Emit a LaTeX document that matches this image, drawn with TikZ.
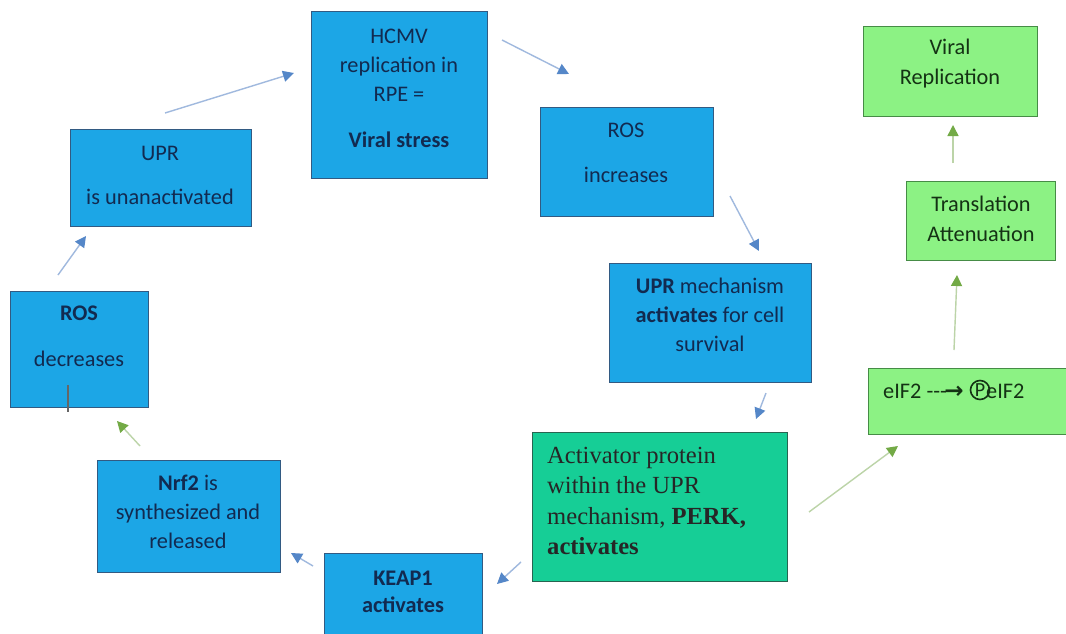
\documentclass[tikz,border=0pt]{standalone}
\usepackage{fontspec}
\setmainfont{Carlito}
\newfontfamily\timesf{Liberation Serif}
\newfontfamily\symf{DejaVu Sans}
\usetikzlibrary{arrows.meta}
\definecolor{bluefill}{RGB}{28,166,230}
\definecolor{blueedge}{RGB}{50,90,130}
\definecolor{greenfill}{RGB}{140,242,132}
\definecolor{greenedge}{RGB}{70,140,70}
\definecolor{perkfill}{RGB}{22,206,150}
\definecolor{perkedge}{RGB}{40,100,80}
\definecolor{navytext}{RGB}{18,42,80}
\definecolor{greentext}{RGB}{20,50,20}
\definecolor{bline}{RGB}{160,185,222}
\definecolor{btip}{RGB}{85,135,200}
\definecolor{gline}{RGB}{188,212,168}
\definecolor{gtip}{RGB}{115,170,70}
\tikzset{
  bluebox/.style={draw=blueedge, fill=bluefill, line width=1pt, inner sep=0pt},
  greenbox/.style={draw=greenedge, fill=greenfill, line width=1pt, inner sep=0pt},
  perkbox/.style={draw=perkedge, fill=perkfill, line width=1pt, inner sep=0pt},
  btext/.style={text=navytext, align=center, inner sep=0pt, font=\fontsize{22.3}{29}\selectfont},
  gtext/.style={text=greentext, align=center, inner sep=0pt, font=\fontsize{22.3}{30}\selectfont},
  ptext/.style={text=black!85, align=left, inner sep=0pt, font=\timesf\fontsize{24.6}{30.5}\selectfont},
  barrow/.style={draw=bline, line width=1.4pt, -{Triangle[length=11pt,width=11pt,color=btip,fill=btip]}},
  garrow/.style={draw=gline, line width=1.4pt, -{Triangle[length=11pt,width=11pt,color=gtip,fill=gtip]}},
}
\begin{document}
\begin{tikzpicture}[x=1pt,y=-1pt]
\clip (0,0) rectangle (1066,634);
\fill[white] (0,0) rectangle (1066,634);
% boxes
\path[bluebox] (311,12) rectangle (487,178) node[pos=0.5] (hcmv) {};
\path[bluebox] (540,107) rectangle (713,216) node[pos=0.5] (rosinc) {};
\path[bluebox] (609,263) rectangle (811,382) node[pos=0.5] (uprmech) {};
\path[perkbox] (532,432) rectangle (787,581) node[pos=0.5] (perk) {};
\path[bluebox] (324,553) rectangle (482,645) node[pos=0.5] (keap) {};
\path[bluebox] (97,460) rectangle (280,572) node[pos=0.5] (nrf) {};
\path[bluebox] (10,291) rectangle (148,407) node[pos=0.5] (rosdec) {};
\path[bluebox] (70,129) rectangle (251,226) node[pos=0.5] (uprun) {};
\path[greenbox] (863,27) rectangle (1037,116) node[pos=0.5] (viral) {};
\path[greenbox] (906,181) rectangle (1055,260) node[pos=0.5] (transl) {};
\path[greenbox] (868,368) rectangle (1072,434) node[pos=0.5] (eif) {};
% texts
\node[btext] (thcmv) at (399,88) {HCMV\\replication in\\RPE =\\[17pt]\textbf{Viral stress}};
\node[btext] (trosinc) at (626,152.5) {ROS\\[16pt]increases};
\node[btext] (tuprmech) at (710,315) {\textbf{UPR} mechanism\\\textbf{activates} for cell\\survival};
\node[ptext, anchor=west] (tperk) at (547,501) {Activator protein\\within the UPR\\mechanism, \textbf{PERK,}\\\textbf{activates}};
\node[btext, font=\fontsize{22.3}{27}\selectfont] (tkeap) at (403,592) {\textbf{KEAP1}\\\textbf{activates}};
\node[btext] (tnrf) at (188,511.5) {\textbf{Nrf2} is\\synthesized and\\released};
\node[btext] (trosdec) at (79,336) {\textbf{ROS}\\[17pt]decreases};
\node[btext] (tuprun) at (160,175) {UPR\\[15pt]is unanactivated};
\node[gtext] (tviral) at (950,64) {Viral\\Replication};
\node[gtext] (ttransl) at (981,219) {Translation\\Attenuation};
\node[gtext, anchor=west] (teif1) at (883,391) {eIF2 -{}-{}-\hspace{-2.5pt}{\symf\bfseries\fontsize{23}{23}\selectfont →}};
\node[gtext, draw=greentext, line width=1.6pt, circle, inner sep=0pt, minimum size=19pt, font=\fontsize{20}{20}\selectfont] (tp) at (980,390) {P};
\node[gtext, anchor=west] (teif2) at (986,391) {eIF2};
% small mark
\coordinate (m1) at (68,385);
\coordinate (m2) at (68,412);
\draw[black!60, line width=1.5pt] (m1) -- (m2);
% arrow endpoints
\coordinate (a1s) at (165,113); \coordinate (a1e) at (294,73);
\coordinate (a2s) at (502,40);  \coordinate (a2e) at (569,74);
\coordinate (a3s) at (730,196); \coordinate (a3e) at (759,251);
\coordinate (a4s) at (766,393); \coordinate (a4e) at (756,419);
\coordinate (a5s) at (521,562); \coordinate (a5e) at (497,584);
\coordinate (a6s) at (313,566); \coordinate (a6e) at (291,553);
\coordinate (a7s) at (140,446); \coordinate (a7e) at (117,421);
\coordinate (a8s) at (58,275);  \coordinate (a8e) at (86,236);
\coordinate (a9s) at (809,512); \coordinate (a9e) at (898,446);
\coordinate (a10s) at (954,350); \coordinate (a10e) at (957,275);
\coordinate (a11s) at (953,163); \coordinate (a11e) at (953,125);
\draw[barrow] (a1s) -- (a1e);
\draw[barrow] (a2s) -- (a2e);
\draw[barrow] (a3s) -- (a3e);
\draw[barrow] (a4s) -- (a4e);
\draw[barrow] (a5s) -- (a5e);
\draw[barrow] (a6s) -- (a6e);
\draw[garrow] (a7s) -- (a7e);
\draw[barrow] (a8s) -- (a8e);
\draw[garrow] (a9s) -- (a9e);
\draw[garrow] (a10s) -- (a10e);
\draw[garrow] (a11s) -- (a11e);
\end{tikzpicture}
\end{document}
